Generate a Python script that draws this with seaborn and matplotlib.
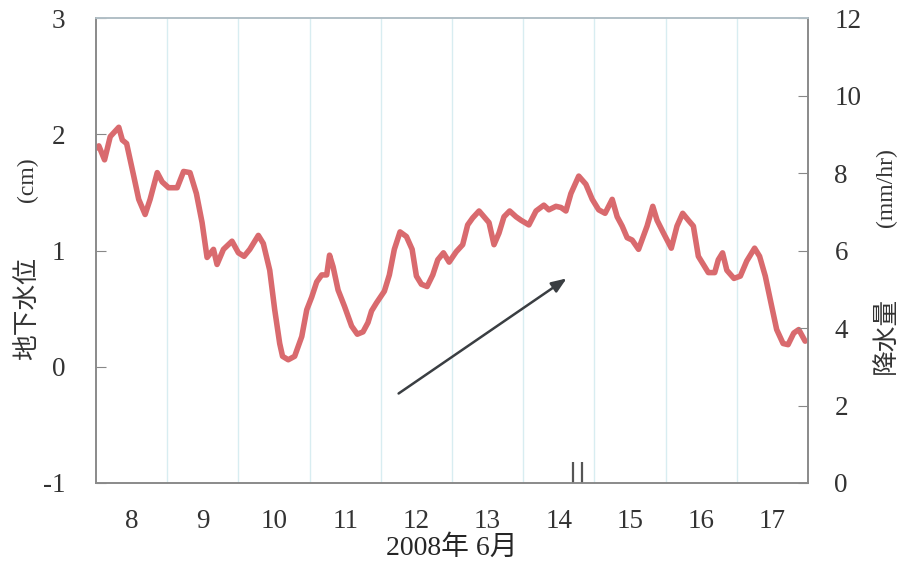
import numpy as np
import pandas as pd
import matplotlib
matplotlib.use('Agg')
import matplotlib.pyplot as plt
import seaborn as sns

# groundwater level (cm), time in days of June 2008
gw_day = [8.00, 8.04, 8.12, 8.20, 8.32, 8.37, 8.43, 8.53, 8.60, 8.69, 8.76, 8.86, 8.93,
          9.02, 9.14, 9.23, 9.32, 9.41, 9.49, 9.56, 9.65, 9.70, 9.79, 9.91,
          10.00, 10.08, 10.16, 10.28, 10.35, 10.44, 10.51, 10.58, 10.62, 10.70, 10.79, 10.89, 10.96,
          11.03, 11.10, 11.17, 11.24, 11.28, 11.33, 11.40, 11.49, 11.59, 11.67, 11.75, 11.82, 11.87, 11.94,
          12.05, 12.12, 12.19, 12.27, 12.36, 12.44, 12.50, 12.57, 12.65, 12.73, 12.80, 12.88, 12.96,
          13.06, 13.15, 13.22, 13.29, 13.38, 13.45, 13.52, 13.59, 13.66, 13.73, 13.81, 13.90, 13.97,
          14.08, 14.18, 14.29, 14.36, 14.46, 14.53, 14.60, 14.67, 14.78, 14.88, 14.97,
          15.06, 15.15, 15.25, 15.32, 15.39, 15.46, 15.53, 15.62, 15.74, 15.82, 15.88, 15.97,
          16.08, 16.16, 16.24, 16.32, 16.39, 16.46, 16.53, 16.60, 16.69, 16.74, 16.80, 16.86, 16.96,
          17.05, 17.14, 17.25, 17.32, 17.40, 17.49, 17.56, 17.65, 17.72, 17.80, 17.87, 17.96]
gw_cm = [1.88, 1.90, 1.78, 1.98, 2.06, 1.95, 1.92, 1.64, 1.44, 1.31, 1.44, 1.67, 1.59,
         1.54, 1.54, 1.68, 1.67, 1.49, 1.24, 0.94, 1.01, 0.88, 1.01, 1.08,
         0.98, 0.95, 1.01, 1.13, 1.06, 0.83, 0.49, 0.20, 0.09, 0.06, 0.09, 0.26, 0.49,
         0.60, 0.73, 0.79, 0.79, 0.96, 0.86, 0.66, 0.52, 0.35, 0.28, 0.30, 0.38, 0.48, 0.55,
         0.65, 0.79, 1.01, 1.16, 1.12, 1.01, 0.78, 0.71, 0.69, 0.79, 0.92, 0.98, 0.90,
         0.99, 1.05, 1.22, 1.28, 1.34, 1.29, 1.24, 1.05, 1.15, 1.29, 1.34, 1.29, 1.26,
         1.22, 1.34, 1.39, 1.35, 1.38, 1.37, 1.34, 1.49, 1.64, 1.57, 1.44,
         1.35, 1.32, 1.44, 1.29, 1.21, 1.11, 1.09, 1.01, 1.21, 1.38, 1.26, 1.15,
         1.02, 1.21, 1.32, 1.26, 1.21, 0.95, 0.88, 0.81, 0.81, 0.92, 0.98, 0.83, 0.76,
         0.78, 0.91, 1.02, 0.95, 0.78, 0.52, 0.32, 0.20, 0.19, 0.29, 0.32, 0.22]

# rainfall (mm/hr)
rain_day = [14.70, 14.83]
rain_mm = [0.55, 0.55]

day_labels = [str(d) for d in range(8, 18)]
left_ticks = [-1, 0, 1, 2, 3]
right_ticks = [0, 2, 4, 6, 8, 10, 12]

# arrow (trend), in data coordinates
arrow_start = (12.25, -0.23)
arrow_end = (14.61, 0.76)

sns.set_style('white')
serif = ['Liberation Serif', 'Noto Sans CJK JP']
jp = ['Noto Sans CJK JP', 'DejaVu Sans']
plt.rcParams['font.family'] = serif

fig = plt.figure(figsize=(9.02, 5.64), dpi=100)
ax = fig.add_axes([96 / 902, 1 - 483 / 564, 712 / 902, 465 / 564])
ax2 = ax.twinx()

data = pd.DataFrame({'day': gw_day, 'level': gw_cm})
sns.lineplot(data=data, x='day', y='level', ax=ax, color='#d96a6e', lw=4.0,
             solid_joinstyle='round', solid_capstyle='round', zorder=3)

ax2.vlines(rain_day, 0, rain_mm, color='#555555', lw=1.6, zorder=2)

ax.set_xlim(8, 18)
ax.set_ylim(-1, 3)
ax2.set_ylim(0, 12)

# day boundaries: gridlines + inward ticks, labels at day centres
ax.set_xticks(np.arange(9, 18))
ax.set_xticklabels([])
ax.set_xticks(np.arange(8.5, 18, 1.0), minor=True)
ax.set_xticklabels(day_labels, minor=True, fontsize=19.5)
ax.tick_params(axis='x', which='major', direction='in', length=9, color='#888888', width=1)
ax.tick_params(axis='x', which='minor', length=0, pad=19)
for d in range(9, 18):
    ax.axvline(d, color='#d8edf1', lw=1.0, zorder=1)

ax.set_yticks(left_ticks)
ax.set_yticklabels([str(v) for v in left_ticks], fontsize=19.5)
ax.tick_params(axis='y', direction='in', length=7, color='#888888', pad=22)
ax2.set_yticks(right_ticks)
ax2.set_yticklabels([str(v) for v in right_ticks], fontsize=19.5)
ax2.tick_params(axis='y', direction='in', length=7, color='#888888', pad=19)

ax.set_xlabel('')
ax.set_ylabel('')
for a in (ax, ax2):
    for s in a.spines.values():
        s.set_color('#8a8a8a')
        s.set_linewidth(1.2)
ax2.spines['top'].set_color('#b8c8d0')

ax.annotate('', xy=arrow_end, xytext=arrow_start,
            arrowprops=dict(arrowstyle='-|>,head_length=0.9,head_width=0.35',
                            color='#3a3e42', lw=1.8, shrinkA=0, shrinkB=0), zorder=4)

# axis titles
fig.text(452 / 902, 1 - 548 / 564, '2008年 6月', ha='center', va='center', fontsize=20,
         family=serif)
fig.text(27 / 902, 1 - 308 / 564, '地下水位', ha='center', va='center', rotation=90,
         fontsize=18.5, family=jp, color='#333333')
fig.text(27 / 902, 1 - 180 / 564, '(cm)', ha='center', va='center', rotation=90,
         fontsize=17, family=serif, color='#333333')
fig.text(886 / 902, 1 - 335 / 564, '降水量', ha='center', va='center', rotation=90,
         fontsize=18.5, family=jp, color='#333333')
fig.text(886 / 902, 1 - 188 / 564, '(mm/hr)', ha='center', va='center', rotation=90,
         fontsize=17, family=serif, color='#333333')

for lab in ax.get_xticklabels(minor=True) + ax.get_yticklabels() + ax2.get_yticklabels():
    lab.set_color('#333333')

fig.savefig('out.png', dpi=100)
